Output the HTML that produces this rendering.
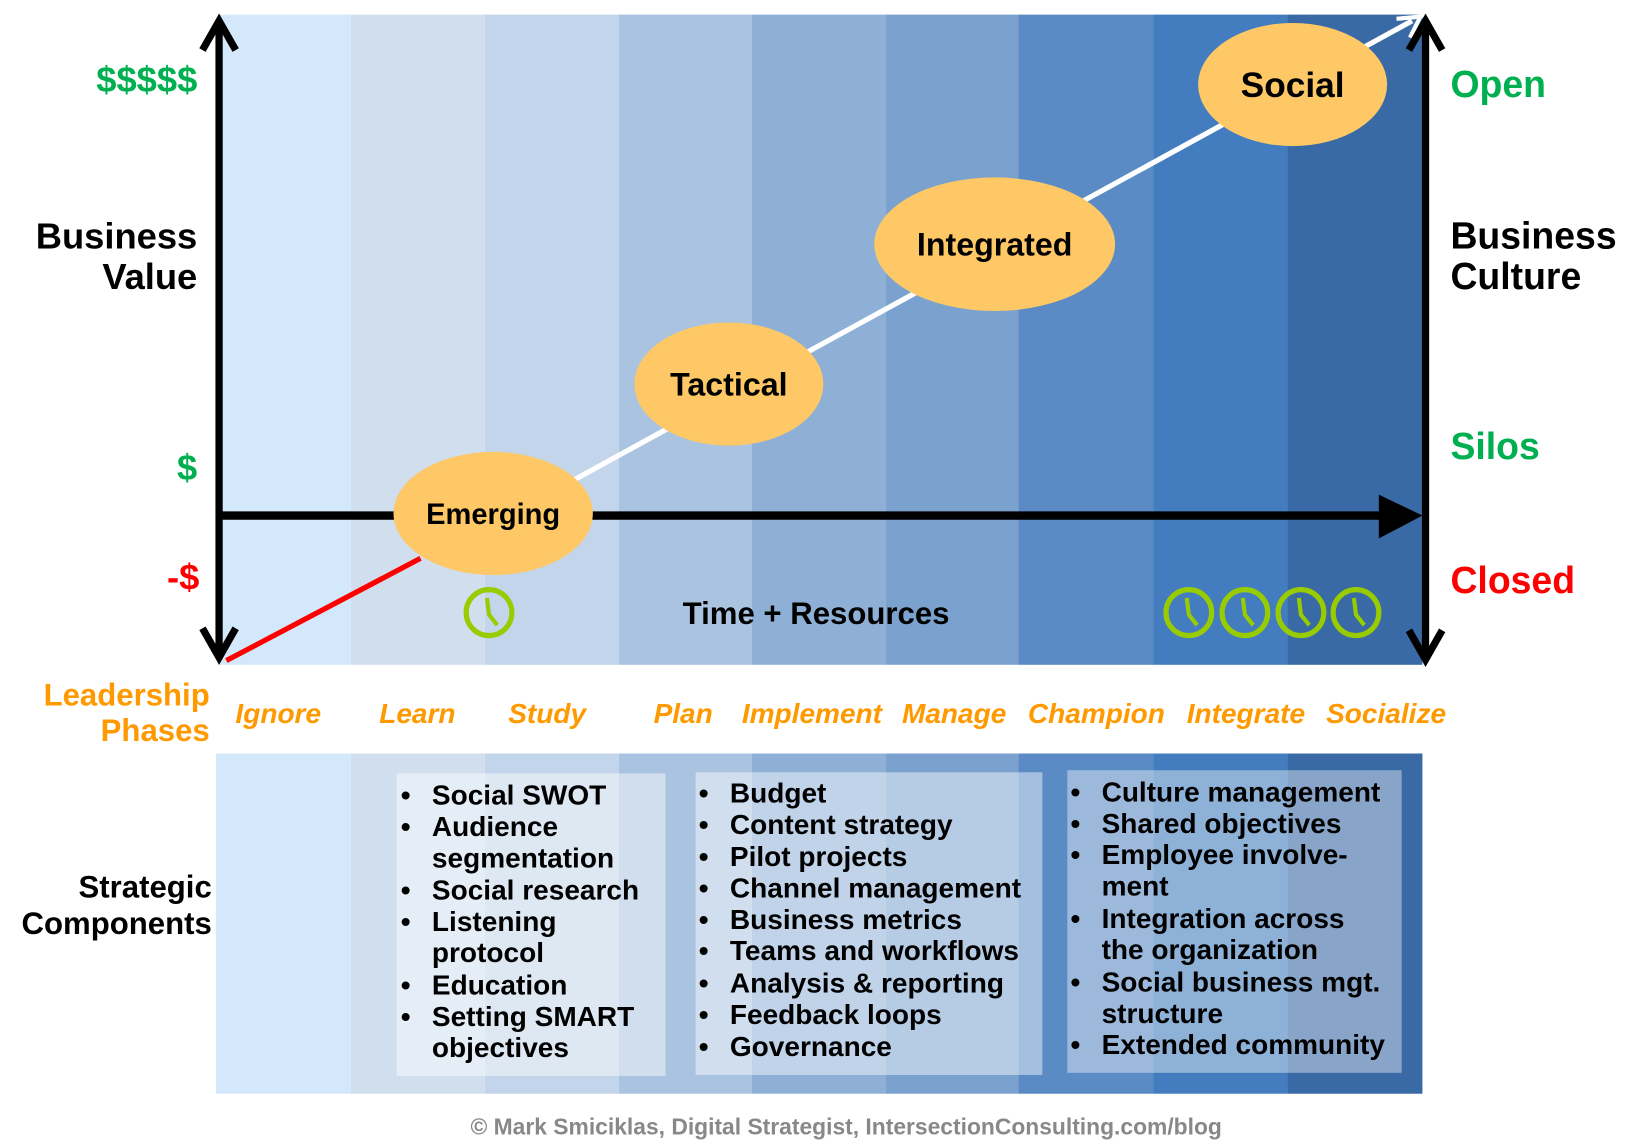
<!DOCTYPE html>
<html><head><meta charset="utf-8"><style>html,body{margin:0;padding:0;background:#fff}svg{display:block}text{font-family:"Liberation Sans",Arial,sans-serif;font-weight:bold}</style></head><body>
<svg width="1628" height="1148" viewBox="0 0 1568 1100" preserveAspectRatio="none" xmlns="http://www.w3.org/2000/svg">
<defs><g id="clk"><circle r="22" fill="none" stroke="#99cc00" stroke-width="5"/><path d="M-2,-14 L0,2 L8,12" fill="none" stroke="#99cc00" stroke-width="4"/></g></defs>
<g>
<rect x="210" y="14" width="128" height="623" fill="#d4e8fb"/>
<rect x="338" y="14" width="129" height="623" fill="#d0deee"/>
<rect x="467" y="14" width="129" height="623" fill="#c2d5ea"/>
<rect x="596" y="14" width="128" height="623" fill="#a9c3e0"/>
<rect x="724" y="14" width="129" height="623" fill="#8eb0d7"/>
<rect x="853" y="14" width="128" height="623" fill="#7ba2cf"/>
<rect x="981" y="14" width="130" height="623" fill="#5a8bc5"/>
<rect x="1111" y="14" width="129" height="623" fill="#447dbf"/>
<rect x="1240" y="14" width="130" height="623" fill="#3a6aa5"/>
</g>
<g>
<rect x="208" y="722" width="130" height="326" fill="#d4e8fb"/>
<rect x="338" y="722" width="129" height="326" fill="#d0deee"/>
<rect x="467" y="722" width="129" height="326" fill="#c2d5ea"/>
<rect x="596" y="722" width="128" height="326" fill="#a9c3e0"/>
<rect x="724" y="722" width="129" height="326" fill="#8eb0d7"/>
<rect x="853" y="722" width="128" height="326" fill="#7ba2cf"/>
<rect x="981" y="722" width="130" height="326" fill="#5a8bc5"/>
<rect x="1111" y="722" width="129" height="326" fill="#447dbf"/>
<rect x="1240" y="722" width="130" height="326" fill="#3a6aa5"/>
<rect x="382" y="741" width="259" height="290" fill="#ffffff" fill-opacity="0.45"/>
<rect x="670" y="740" width="334" height="290" fill="#ffffff" fill-opacity="0.45"/>
<rect x="1028" y="738" width="322" height="290" fill="#ffffff" fill-opacity="0.4"/>
</g>
<!-- lines -->
<line x1="218" y1="633" x2="405" y2="535" stroke="#ff0000" stroke-width="5"/>
<line x1="470" y1="505" x2="1360" y2="20" stroke="#ffffff" stroke-width="5"/>
<path d="M1345,18 L1368,16 L1358,36" fill="none" stroke="#fff" stroke-width="4"/>
<line x1="211" y1="494" x2="1330" y2="494" stroke="#000" stroke-width="8"/>
<polygon points="1328,474 1370,494 1328,516" fill="#000"/>
<line x1="211" y1="20" x2="211" y2="630" stroke="#000" stroke-width="7"/>
<path d="M195,48 L211,20 L227,48 M195,602 L211,630 L227,602" fill="none" stroke="#000" stroke-width="7"/>
<line x1="1373" y1="20" x2="1373" y2="632" stroke="#000" stroke-width="7"/>
<path d="M1357,48 L1373,20 L1389,48 M1357,604 L1373,632 L1389,604" fill="none" stroke="#000" stroke-width="7"/>
<!-- ellipses -->
<ellipse cx="475" cy="492" rx="96" ry="59" fill="#fdc865"/>
<ellipse cx="702" cy="368" rx="91" ry="59" fill="#fdc865"/>
<ellipse cx="958" cy="234" rx="116" ry="64" fill="#fdc865"/>
<ellipse cx="1245" cy="81" rx="91" ry="59" fill="#fdc865"/>
<text x="475" y="502" font-size="28" text-anchor="middle">Emerging</text>
<text x="702" y="379" font-size="31" text-anchor="middle">Tactical</text>
<text x="958" y="245" font-size="31" text-anchor="middle">Integrated</text>
<text x="1245" y="93" font-size="34" text-anchor="middle">Social</text>
<!-- clocks -->
<use href="#clk" x="471" y="587"/><use href="#clk" x="1145" y="587"/><use href="#clk" x="1199" y="587"/><use href="#clk" x="1253" y="587"/><use href="#clk" x="1306" y="587"/>
<text x="786" y="598" font-size="30" text-anchor="middle">Time + Resources</text>
<!-- left labels -->
<g font-size="35" text-anchor="end">
<text x="190" y="88" fill="#00b050">$$$$$</text>
<text x="190" y="238">Business</text><text x="190" y="277">Value</text>
<text x="190" y="460" fill="#00b050">$</text>
<text x="192" y="565" fill="#ff0000">-$</text>
</g>
<g font-size="36">
<text x="1397" y="93" fill="#00b050">Open</text>
<text x="1397" y="238" fill="#000">Business</text><text x="1397" y="277">Culture</text>
<text x="1397" y="440" fill="#00b050">Silos</text>
<text x="1397" y="568" fill="#ff0000">Closed</text>
</g>
<g font-size="30" text-anchor="end">
<text x="202" y="676" fill="#ff9900">Leadership</text><text x="202" y="710" fill="#ff9900">Phases</text>
<text x="204" y="860">Strategic</text><text x="204" y="895">Components</text>
</g>
<g font-size="27" font-style="italic" fill="#ff9900" text-anchor="middle">
<text x="268" y="693">Ignore</text><text x="402" y="693">Learn</text><text x="527" y="693">Study</text><text x="658" y="693">Plan</text><text x="782" y="693">Implement</text><text x="919" y="693">Manage</text><text x="1056" y="693">Champion</text><text x="1200" y="693">Integrate</text><text x="1335" y="693">Socialize</text>
</g>
<g font-size="27">
<g><text x="386" y="771">•</text><text x="386" y="801">•</text><text x="386" y="862">•</text><text x="386" y="892">•</text><text x="386" y="953">•</text><text x="386" y="983">•</text>
<text x="416" y="771">Social SWOT</text><text x="416" y="801">Audience</text><text x="416" y="831">segmentation</text><text x="416" y="862">Social research</text><text x="416" y="892">Listening</text><text x="416" y="922">protocol</text><text x="416" y="953">Education</text><text x="416" y="983">Setting SMART</text><text x="416" y="1013">objectives</text></g>
<g><text x="673" y="769">•</text><text x="673" y="799">•</text><text x="673" y="830">•</text><text x="673" y="860">•</text><text x="673" y="890">•</text><text x="673" y="920">•</text><text x="673" y="951">•</text><text x="673" y="981">•</text><text x="673" y="1012">•</text>
<text x="703" y="769">Budget</text><text x="703" y="799">Content strategy</text><text x="703" y="830">Pilot projects</text><text x="703" y="860">Channel management</text><text x="703" y="890">Business  metrics</text><text x="703" y="920">Teams and workflows</text><text x="703" y="951">Analysis &amp; reporting</text><text x="703" y="981">Feedback loops</text><text x="703" y="1012">Governance</text></g>
<g><text x="1031" y="768">•</text><text x="1031" y="798">•</text><text x="1031" y="828">•</text><text x="1031" y="889">•</text><text x="1031" y="950">•</text><text x="1031" y="1010">•</text>
<text x="1061" y="768">Culture management</text><text x="1061" y="798">Shared objectives</text><text x="1061" y="828">Employee involve-</text><text x="1061" y="858">ment</text><text x="1061" y="889">Integration across</text><text x="1061" y="919">the organization</text><text x="1061" y="950">Social business mgt.</text><text x="1061" y="980">structure</text><text x="1061" y="1010">Extended community</text></g>
</g>
<text x="815" y="1087" font-size="22" fill="#888" text-anchor="middle">© Mark Smiciklas, Digital Strategist, IntersectionConsulting.com/blog</text>
</svg>
</body></html>
